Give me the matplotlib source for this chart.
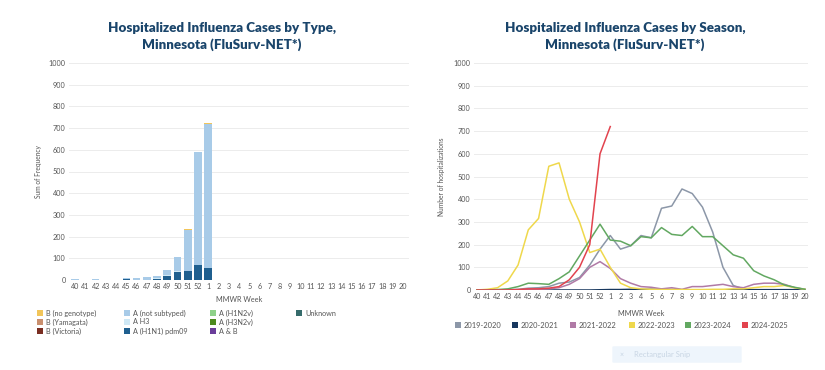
import matplotlib
matplotlib.use("Agg")
import matplotlib.pyplot as plt
from matplotlib.patches import Rectangle, FancyBboxPatch
import numpy as np

plt.rcParams['font.family'] = ['Lato', 'DejaVu Sans']

weeks = [str(w) for w in list(range(40, 53)) + list(range(1, 21))]

# ---- Left chart: hospitalized cases by type (stacked) ----
type_labels = ["B (no genotype)", "B (Yamagata)", "B (Victoria)",
               "A (not subtyped)", "A H3", "A (H1N1) pdm09",
               "A (H1N2v)", "A (H3N2v)", "A & B", "Unknown"]
type_colors = ["#f2c55a", "#c98f6e", "#7a2e22",
               "#a8cbe8", "#cfe8f5", "#1f5f8f",
               "#8fd18a", "#4d8a1f", "#6a3d9a", "#356b6b"]

h1n1 =        [0, 0, 0, 0, 0, 3, 2, 2, 4, 18, 37, 41, 69, 55] + [0] * 19
h3 =          [0, 0, 0, 0, 0, 0, 0, 0, 3, 3, 3, 0, 0, 0] + [0] * 19
not_subtyped = [3, 0, 3, 0, 0, 7, 8, 10, 12, 25, 67, 190, 520, 665] + [0] * 19
b_nogeno =    [0, 0, 0, 0, 0, 0, 0, 0, 0, 2, 1, 5, 3, 2] + [0] * 19

# ---- Right chart: hospitalizations by season ----
season_labels = ["2019-2020", "2020-2021", "2021-2022", "2022-2023", "2023-2024", "2024-2025"]
season_colors = ["#8c97a8", "#17375e", "#b07aa6", "#efd84c", "#62a861", "#e2434e"]

s2019 = [0, 0, 0, 2, 3, 8, 10, 15, 30, 35, 55, 110, 180, 240, 180, 195, 240, 230,
         360, 370, 445, 425, 365, 255, 100, 20, 5, 2, 2, 2, 2, 2, 2]
s2020 = [0, 0, 0, 0, 0, 0, 0, 0, 0, 0, 0, 0, 1, 2, 2, 3, 2, 3, 2, 2, 1, 1, 1, 1,
         1, 1, 1, 1, 1, 1, 1, 1, 1]
s2021 = [0, 0, 0, 0, 0, 2, 3, 5, 10, 25, 50, 100, 125, 95, 50, 30, 15, 12,
         5, 10, 3, 15, 15, 20, 25, 15, 10, 25, 30, 30, 25, 10, 3]
s2022 = [0, 3, 10, 40, 110, 265, 315, 545, 560, 400, 300, 165, 180, 100, 30, 10, 5, 3,
         2, 2, 2, 2, 2, 3, 3, 5, 5, 10, 15, 15, 20, 10, 3]
s2023 = [0, 0, 2, 5, 15, 30, 28, 25, 50, 80, 150, 220, 290, 220, 215, 195, 235, 230,
         275, 245, 240, 280, 235, 235, 195, 155, 140, 85, 62, 45, 22, 12, 3]
s2024 = [0, 0, 0, 0, 2, 5, 5, 8, 15, 45, 100, 200, 600, 720]
seasons = [s2019, s2020, s2021, s2022, s2023, s2024]

W, H = 825, 370
fig = plt.figure(figsize=(W / 100, H / 100), dpi=100)
fig.patch.set_facecolor("white")

title_color = "#1a456b"
tick_color = "#555555"
grid_color = "#ececec"


def fx(px):
    return px / W


def fy(py):
    return 1 - py / H


def style_axes(ax):
    for s in ax.spines.values():
        s.set_visible(False)
    ax.set_ylim(0, 1000)
    ax.set_yticks(range(0, 1001, 100))
    ax.yaxis.grid(True, color=grid_color, lw=0.7)
    ax.set_axisbelow(True)
    ax.tick_params(axis='both', length=0, labelsize=5.2, colors=tick_color, pad=2.5)
    ax.set_xticks(range(len(weeks)))
    ax.set_xticklabels(weeks)


# Left axes
axL = fig.add_axes([fx(69), fy(280), fx(409 - 69), fy(63) - fy(280)])
style_axes(axL)
axL.set_xlim(-0.6, len(weeks) - 0.4)
x = np.arange(len(weeks))
bottom = np.zeros(len(weeks))
stack = [(h1n1, type_colors[5]), (h3, type_colors[4]), (not_subtyped, type_colors[3]), (b_nogeno, type_colors[0])]
for vals, col in stack:
    v = np.array(vals, dtype=float)
    axL.bar(x, v, bottom=bottom, width=0.75, color=col, linewidth=0)
    bottom += v
axL.set_ylabel("Sum of Frequency", fontsize=4.8, color=tick_color, labelpad=5)
axL.set_xlabel("MMWR Week", fontsize=5.2, color=tick_color, labelpad=4)

# Right axes
axR = fig.add_axes([fx(474), fy(290), fx(808 - 474), fy(63) - fy(290)])
style_axes(axR)
axR.set_xlim(-0.3, len(weeks) - 0.7)
for vals, col in zip(seasons, season_colors):
    axR.plot(np.arange(len(vals)), vals, color=col, lw=1.1, solid_joinstyle='round')
axR.set_ylabel("Number of hospitalizations", fontsize=4.8, color=tick_color, labelpad=6)
axR.set_xlabel("MMWR Week", fontsize=5.2, color=tick_color, labelpad=7)

# Titles
for cx, lines in [(222, ["Hospitalized Influenza Cases by Type,", "Minnesota (FluSurv-NET*)"]),
                  (625, ["Hospitalized Influenza Cases by Season,", "Minnesota (FluSurv-NET*)"])]:
    for i, t in enumerate(lines):
        fig.text(fx(cx), fy(28 + 17 * i), t, ha='center', va='center', fontsize=9.6,
                 fontweight='heavy', color=title_color)

# Left legend (manual layout, 4 columns)
col_x = [37, 124, 210, 296]
row_y = [313, 322, 331]
positions = [(0, 0), (0, 1), (0, 2), (1, 0), (1, 1), (1, 2), (2, 0), (2, 1), (2, 2), (3, 0)]
sq = 6
for (c, r), lab, col in zip(positions, type_labels, type_colors):
    px, py = col_x[c], row_y[r]
    fig.patches.append(Rectangle((fx(px), fy(py + sq / 2)), fx(sq), fy(py - sq / 2) - fy(py + sq / 2),
                                 transform=fig.transFigure, color=col, lw=0))
    fig.text(fx(px + 9), fy(py), lab, fontsize=5.2, color=tick_color, va='center', ha='left')

# Right legend
leg_x = [455, 512, 570, 629, 685, 742]
leg_y = 325
for px, lab, col in zip(leg_x, season_labels, season_colors):
    fig.patches.append(Rectangle((fx(px), fy(leg_y + sq / 2)), fx(sq), fy(leg_y - sq / 2) - fy(leg_y + sq / 2),
                                 transform=fig.transFigure, color=col, lw=0))
    fig.text(fx(px + 9), fy(leg_y), lab, fontsize=5.4, color=tick_color, va='center', ha='left')

# faint screenshot artifact box
fig.patches.append(FancyBboxPatch((fx(614), fy(362)), fx(740 - 614), fy(347) - fy(362),
                                  boxstyle="round,pad=0.002", transform=fig.transFigure,
                                  facecolor="#eef5fc", edgecolor="none"))
fig.text(fx(622), fy(354.5), "×", fontsize=5, color="#c5d3e2", va='center', ha='center')
fig.text(fx(634), fy(354.5), "Rectangular Snip", fontsize=5.5, color="#c9d6e4", va='center', ha='left')

fig.savefig("out.png", dpi=100, facecolor="white")
